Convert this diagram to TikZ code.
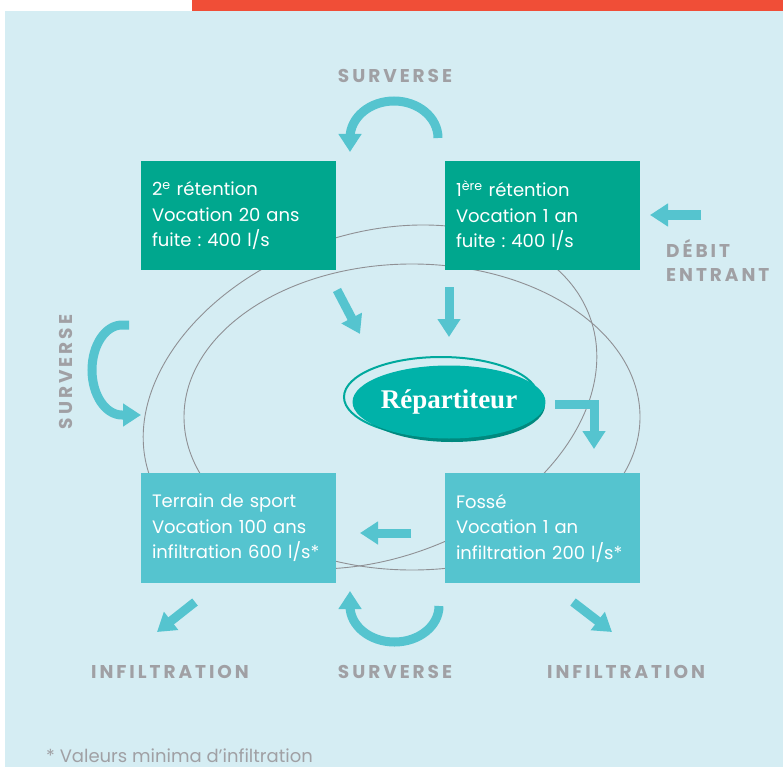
\documentclass[tikz,border=0pt]{standalone}
\usepackage{fontspec}
\setmainfont{Poppins}
\newfontfamily\labfont[LetterSpace=16]{Poppins}
\newfontfamily\repfont{Liberation Serif}
\usetikzlibrary{arrows.meta,shapes.geometric}
\definecolor{bg}{HTML}{D5EDF3}
\definecolor{redbar}{HTML}{F04E37}
\definecolor{darkbox}{HTML}{00A78E}
\definecolor{lightbox}{HTML}{55C4CF}
\definecolor{arrowc}{HTML}{55C4CF}
\definecolor{labgray}{HTML}{A0A0A4}
\definecolor{ringc}{HTML}{00A99D}
\definecolor{repfill}{HTML}{00B2A9}
\definecolor{repshadow}{HTML}{00897F}
\definecolor{loopc}{HTML}{8F9094}
\frenchspacing
\tikzset{
  box/.style={rectangle, minimum width=195pt, minimum height=109pt, text width=173pt,
    inner xsep=11pt, inner ysep=0pt, align=left, text=white,
    font=\fontsize{18}{25.5}\selectfont},
  lab/.style={text=labgray, font=\labfont\bfseries\fontsize{18.5}{24}\selectfont, inner sep=0pt, align=left},
  flow/.style={draw=arrowc, line width=9pt, line join=miter,
    -{Triangle[width=22pt,length=18pt]}},
  loop/.style={draw=loopc, line width=0.9pt}
}
\begin{document}
\begin{tikzpicture}[x=1pt,y=-1pt]
\useasboundingbox (0,0) rectangle (783,767);
\fill[white] (0,0) rectangle (783,767);
\fill[bg] (5,11) rectangle (783,767);
\fill[redbar] (192,0) rectangle (783,11);

% background loops
\draw[loop, rotate around={20:(370,397)}] (370,397) ellipse[x radius=234, y radius=162];
\draw[loop] (412,417) ellipse[x radius=228, y radius=153];

% boxes
\node[box, fill=darkbox] (r2) at (238.5,215.5) {2\textsuperscript{e} rétention\\Vocation 20 ans\\fuite : 400 l/s};
\node[box, fill=darkbox] (r1) at (542.5,215.5) {1\textsuperscript{ère} rétention\\Vocation 1 an\\fuite : 400 l/s};
\node[box, fill=lightbox, minimum height=110pt] (ts) at (238.5,528) {Terrain de sport\\Vocation 100 ans\\infiltration 600 l/s*};
\node[box, fill=lightbox, minimum height=110pt] (fo) at (542.5,528) {Fossé\\Vocation 1 an\\infiltration 200 l/s*};

% repartiteur
\draw[ringc, line width=2pt] (441,397) ellipse[x radius=97, y radius=40];
\fill[repshadow] (452,405) ellipse[x radius=93, y radius=37];
\node[ellipse, fill=repfill, minimum width=186pt, minimum height=73pt, inner sep=0pt,
  text=white, font=\repfont\bfseries\fontsize{27}{30}\selectfont] (rep) at (449,402) {Répartiteur};

% arrow end points
\coordinate (a1s) at (337,290); \coordinate (a1e) at (360,334);
\coordinate (a2s) at (449,287); \coordinate (a2e) at (449,337);
\coordinate (a3s) at (555,404); \coordinate (a3m) at (594,404); \coordinate (a3e) at (594,449);
\coordinate (a4s) at (411,533); \coordinate (a4e) at (360,533);
\coordinate (a5s) at (701,215); \coordinate (a5e) at (650,215);
\coordinate (a6s) at (195,602); \coordinate (a6e) at (157,632);
\coordinate (a7s) at (573,602); \coordinate (a7e) at (612,632);
\coordinate (t1) at (438,138); \coordinate (t2) at (439,606); \coordinate (t3) at (129,325);

\draw[flow] (a1s) -- (a1e);
\draw[flow] (a2s) -- (a2e);
\draw[flow] (a3s) -- (a3m) -- (a3e);
\draw[flow] (a4s) -- (a4e);
\draw[flow] (a5s) -- (a5e);
\draw[flow] (a6s) -- (a6e);
\draw[flow] (a7s) -- (a7e);

% surverse loops
\draw[flow] (t1) arc[start angle=0, end angle=-180, x radius=44, y radius=37] -- ++(0,14);
\draw[flow] (t2) arc[start angle=0, end angle=180, x radius=44.5, y radius=36] -- ++(0,-15);
\draw[flow] (t3) -- ++(-7,0) arc[start angle=-90, end angle=-270, x radius=30, y radius=45] -- ++(19,0);

% labels
\node[lab] (sv1) at (395,76) {SURVERSE};
\node[lab] (sv2) at (395,672) {SURVERSE};
\node[lab, rotate=90] (sv3) at (66,372) {SURVERSE};
\node[lab] (in1) at (170,672) {INFILTRATION};
\node[lab] (in2) at (626,672) {INFILTRATION};
\node[lab, anchor=base west] (de) at (666,281) {DÉBIT\\ENTRANT};
\node[anchor=base west, inner sep=0pt, text=labgray, font=\fontsize{18}{20}\selectfont] (fn) at (46,762) {* Valeurs minima d’infiltration};
\end{tikzpicture}
\end{document}
